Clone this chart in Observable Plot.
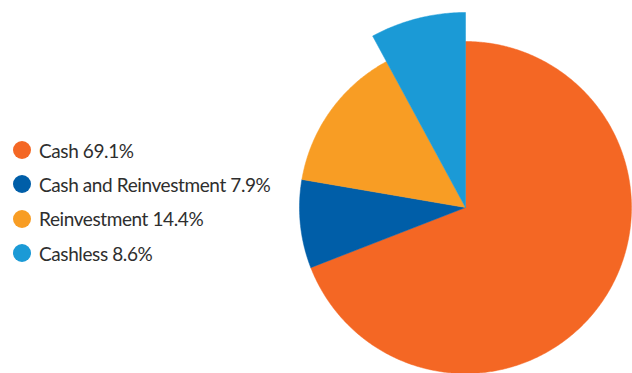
<!DOCTYPE html>
<html><head><meta charset="utf-8">
<script src="https://cdn.jsdelivr.net/npm/d3@7"></script>
<script src="https://cdn.jsdelivr.net/npm/@observablehq/plot@0.6"></script>
<style>
body{margin:0;background:#fff;}
#wrap{position:relative;width:632px;height:373px;overflow:hidden}
#wrap svg{position:absolute;left:0;top:0}
#legend{position:absolute;left:13px;top:133px;font-family:Lato,sans-serif;font-size:19px;letter-spacing:-0.4px;color:#2e2e2e;z-index:2}
.row{display:flex;align-items:center;height:34.3px;white-space:nowrap}
.sw{width:18px;height:18px;border-radius:50%;margin-right:8px;flex:none}
</style></head><body><div id="wrap"><div id="legend"></div></div>
<script>
const categories = ["Cash", "Cash and Reinvestment", "Reinvestment", "Cashless"];
const labels = ["Cash 69.1%", "Cash and Reinvestment 7.9%", "Reinvestment 14.4%", "Cashless 8.6%"];
// slice shares as drawn in the picture
const values = [69.1, 8.6, 14.4, 7.9];
const colors = ["#F46724", "#005EA8", "#F89D24", "#1B9AD6"];

const R = 166, Rbig = 195, highlight = "Cashless";
const total = d3.sum(values);
const pts = [];
let acc = 0;
categories.forEach((c, i) => {
  const a0 = acc / total * 2 * Math.PI;
  acc += values[i];
  const a1 = acc / total * 2 * Math.PI;
  const r = c === highlight ? Rbig : R;
  pts.push({cat: c, x: 0, y: 0});
  const n = Math.max(2, Math.ceil((a1 - a0) / (Math.PI / 360)));
  for (let k = 0; k <= n; k++) {
    const a = a0 + (a1 - a0) * k / n;
    pts.push({cat: c, x: r * Math.sin(a), y: r * Math.cos(a)});
  }
  pts.push({cat: c, x: 0, y: 0});
});

const chart = Plot.plot({
  width: 632, height: 373,
  margin: 0,
  x: {domain: [-465, 167], axis: null},
  y: {domain: [-166, 207], axis: null},
  color: {domain: categories, range: colors},
  marks: [
    Plot.line(pts, {x: "x", y: "y", z: "cat", fill: "cat", stroke: "cat", strokeWidth: 0.5})
  ]
});
const wrap = document.getElementById("wrap");
wrap.insertBefore(chart, wrap.firstChild);

const legend = document.getElementById("legend");
categories.forEach((c, i) => {
  const row = document.createElement("div");
  row.className = "row";
  const sw = document.createElement("span");
  sw.className = "sw";
  sw.style.background = colors[i];
  const t = document.createElement("span");
  t.textContent = labels[i];
  row.appendChild(sw); row.appendChild(t);
  legend.appendChild(row);
});
</script></body></html>
